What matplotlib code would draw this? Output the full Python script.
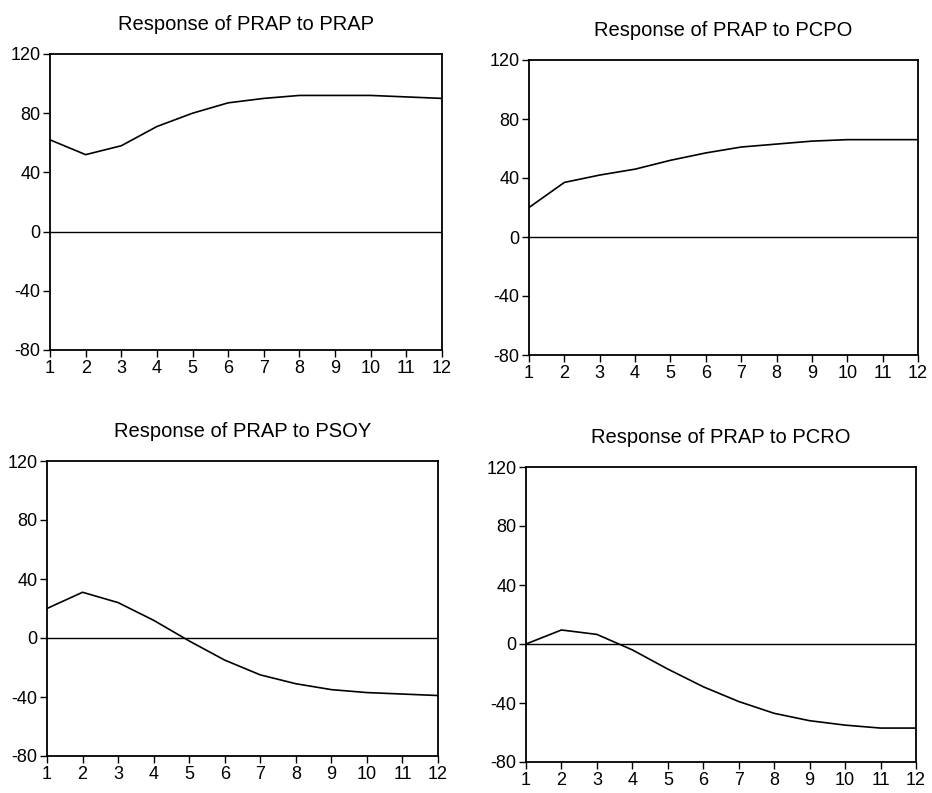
import matplotlib
matplotlib.use("Agg")
import matplotlib.pyplot as plt

plt.rcParams['font.family'] = ['Liberation Sans', 'DejaVu Sans']
plt.rcParams['axes.unicode_minus'] = False

periods = list(range(1, 13))
titles = ["Response of PRAP to PRAP", "Response of PRAP to PCPO",
          "Response of PRAP to PSOY", "Response of PRAP to PCRO"]
resp_prap = [62, 52, 58, 71, 80, 87, 90, 92, 92, 92, 91, 90]
resp_pcpo = [20, 37, 42, 46, 52, 57, 61, 63, 65, 66, 66, 66]
resp_psoy = [20, 31, 24, 12, -2, -15, -25, -31, -35, -37, -38, -39]
resp_pcro = [0, 9.5, 6.5, -4, -17, -29, -39, -47, -52, -55, -57, -57]
y_ticks = [-80, -40, 0, 40, 80, 120]

series = [resp_prap, resp_pcpo, resp_psoy, resp_pcro]
W, H = 932, 793
boxes = [(50, 442, 54, 350), (529, 918, 60, 355), (47, 438, 461, 756), (526, 916, 467, 762)]

fig = plt.figure(figsize=(W / 100, H / 100), dpi=100)
for (l, r, t, b), vals, title in zip(boxes, series, titles):
    ax = fig.add_axes([l / W, 1 - b / H, (r - l) / W, (b - t) / H])
    ax.plot(periods, vals, color='black', lw=1.2)
    ax.axhline(0, color='black', lw=1.0)
    ax.set_xlim(1, 12)
    ax.set_ylim(-80, 120)
    ax.set_xticks(periods)
    ax.set_yticks(y_ticks)
    ax.tick_params(direction='out', length=5, width=1, labelsize=13, pad=2, colors='black')
    for s in ax.spines.values():
        s.set_linewidth(1.3)
        s.set_color('black')
    ax.set_title(title, fontsize=14.5, pad=17)

fig.savefig("out.png", dpi=100, facecolor='white')
